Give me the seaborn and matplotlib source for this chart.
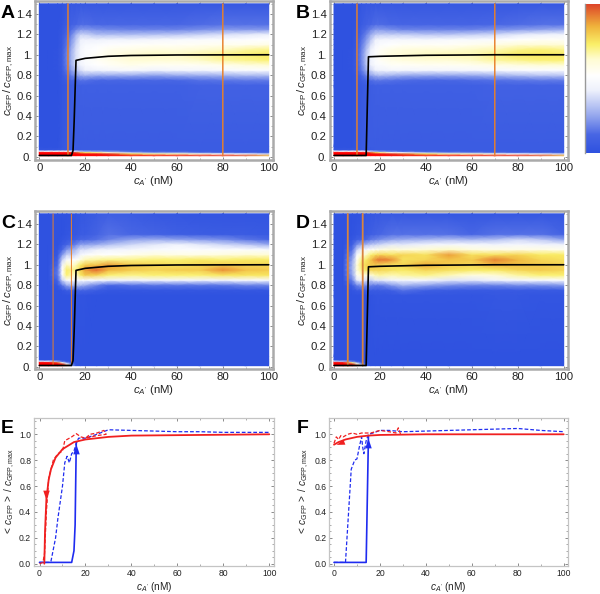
import numpy as np
import pandas as pd
import matplotlib
matplotlib.use("Agg")
import matplotlib.pyplot as plt
from matplotlib.colors import LinearSegmentedColormap
from matplotlib.ticker import MultipleLocator, FixedLocator, FixedFormatter
import seaborn as sns

sns.set_theme(style="white")
plt.rcParams["font.family"] = ["Liberation Sans", "DejaVu Sans"]
plt.rcParams["mathtext.fontset"] = "custom"
plt.rcParams["mathtext.rm"] = "Liberation Sans"
plt.rcParams["mathtext.it"] = "Liberation Sans:italic"
plt.rcParams["mathtext.bf"] = "Liberation Sans:bold"

# ---- data ----
heat_x = [0, 4, 8, 10, 12, 14, 16, 18, 20, 25, 30, 40, 50, 60, 70, 80, 90, 100]
heat_y = [0.01, 0.03, 0.045, 0.055, 0.07, 0.1, 0.7, 0.75, 0.8, 0.85, 0.9, 0.95,
          1.0, 1.05, 1.1, 1.15, 1.2, 1.25, 1.3, 1.5]

heat_a = [
    [125,125,125,125,125,125,125,125,125,125,122,118,115,112,108,105,98,85],
    [130,130,130,130,130,130,130,125,120,115,105,78,68,66,60,52,44,35],
    [130,130,130,130,125,115,100,85,75,70,62,30,20,22,15,12,10,8],
    [45,50,55,55,50,45,38,30,25,22,20,12,9,9,7,6,5,5],
    [3,3,3,4,5,5,5,6,6,6,6,6,6,6,6,6,6,6],
    [0,0,0,3,5,6,6,6,6,6,6,6,6,6,6,6,6,6],
    [0,0,0,2,4,6,7,8,8,8,8,8,8,8,9,9,9,9],
    [0,0,0,3,7,10,12,14,14,12,12,12,12,12,14,15,16,16],
    [0,0,0,4,11,17,22,26,28,26,26,26,24,26,27,28,30,30],
    [0,0,1,5,15,23,32,38,42,44,46,48,44,46,46,48,50,50],
    [0,0,1,6,17,27,37,44,48,52,54,57,55,55,55,57,60,62],
    [0,0,1,6,18,28,39,46,50,54,57,62,62,62,64,68,70,72],
    [0,0,1,6,18,28,38,46,50,54,57,62,64,64,67,70,72,74],
    [0,0,1,6,17,27,38,46,50,52,56,58,60,60,62,64,68,70],
    [0,0,0,5,15,24,36,44,48,50,51,53,54,54,55,56,56,58],
    [0,0,0,5,14,22,32,42,43,42,44,44,46,48,49,50,51,52],
    [0,0,0,4,12,18,28,35,35,30,30,30,31,32,35,38,40,42],
    [0,0,0,3,9,13,18,22,22,20,19,18,18,18,20,22,22,22],
    [0,0,0,2,6,9,11,13,13,12,12,12,12,12,13,14,14,14],
    [0,0,0,1,3,4,4,4,4,4,4,4,4,4,4,4,4,4],
]
heat_b = [
    [125,125,125,125,125,125,125,125,122,120,118,116,114,110,108,105,98,85],
    [130,130,130,130,130,130,128,122,118,105,95,75,66,64,58,50,42,35],
    [130,130,130,130,125,112,95,80,70,55,42,26,20,18,14,12,10,8],
    [45,50,55,55,50,42,32,25,20,16,12,9,8,8,7,6,5,5],
    [3,3,3,4,5,5,5,6,6,6,6,6,6,6,6,6,6,6],
    [0,0,0,3,5,6,6,6,6,6,6,6,6,6,6,6,6,6],
    [0,0,0,2,4,6,7,8,8,8,8,8,8,8,9,9,9,9],
    [0,0,0,3,7,10,13,15,15,14,13,12,12,13,14,15,16,16],
    [0,0,0,4,11,18,24,28,30,28,26,25,25,26,28,30,32,32],
    [0,0,1,6,16,26,36,42,44,46,46,46,46,47,48,50,50,50],
    [0,0,1,7,18,30,42,48,50,54,54,55,55,56,58,60,62,62],
    [0,0,1,7,19,32,44,50,54,58,60,62,62,64,68,70,72,72],
    [0,0,1,7,19,32,44,50,55,60,62,64,66,66,70,74,74,74],
    [0,0,1,6,18,30,42,50,54,58,60,62,62,64,66,70,72,70],
    [0,0,0,5,16,26,38,46,50,52,54,54,54,56,58,62,62,62],
    [0,0,0,5,14,22,32,42,45,46,46,46,48,48,50,52,54,54],
    [0,0,0,4,12,18,26,32,34,34,34,32,32,34,36,40,42,44],
    [0,0,0,3,9,13,18,22,22,20,18,18,18,18,20,22,24,26],
    [0,0,0,2,6,9,11,13,13,12,11,11,11,11,12,13,14,14],
    [0,0,0,1,3,4,4,4,4,4,4,4,4,4,4,4,4,4],
]
heat_c = [
    [130,130,130,125,90,25,3,0,0,0,0,0,0,0,0,0,0,0],
    [130,130,125,100,50,15,0,0,0,0,0,0,0,0,0,0,0,0],
    [125,125,95,55,20,5,0,0,0,0,0,0,0,0,0,0,0,0],
    [40,40,25,12,4,0,0,0,0,0,0,0,0,0,0,0,0,0],
    [0,0,0,0,0,0,0,0,0,0,0,0,0,0,0,0,0,0],
    [0,0,0,0,0,0,0,0,0,0,0,0,0,0,0,0,0,0],
    [0,0,0,0,0,0,1,1,1,0,0,0,0,0,0,0,0,0],
    [0,0,0,2,6,8,10,10,10,6,3,3,3,3,3,3,3,3],
    [0,0,3,15,25,28,30,28,25,18,12,14,15,15,15,15,18,18],
    [0,0,10,35,50,48,45,50,50,48,44,45,45,46,45,45,48,48],
    [0,0,15,50,72,66,62,74,80,78,72,70,72,72,72,75,75,75],
    [0,0,15,52,74,70,70,80,88,95,85,80,78,80,80,90,82,80],
    [0,0,12,45,65,60,66,74,80,82,88,80,78,76,78,80,78,78],
    [0,0,8,35,50,48,52,60,66,68,70,70,72,72,74,72,74,74],
    [0,0,4,22,35,34,38,46,50,54,52,56,60,58,58,60,62,62],
    [0,0,2,12,22,25,30,38,38,42,44,46,48,50,50,50,50,48],
    [0,0,0,5,10,14,18,24,24,26,30,36,40,44,40,36,32,26],
    [0,0,0,2,4,6,8,12,12,14,18,24,26,24,22,20,15,12],
    [0,0,0,0,2,3,4,6,6,10,14,12,10,8,7,6,6,5],
    [0,0,0,0,0,1,2,3,4,6,8,6,4,3,2,2,2,2],
]
heat_d = [
    [130,130,120,95,50,8,0,0,0,0,0,0,0,0,0,0,0,0],
    [130,128,100,60,20,2,0,0,0,0,0,0,0,0,0,0,0,0],
    [120,115,70,25,5,0,0,0,0,0,0,0,0,0,0,0,0,0],
    [35,30,15,5,0,0,0,0,0,0,0,0,0,0,0,0,0,0],
    [0,0,0,0,0,0,0,0,0,0,0,0,0,0,0,0,0,0],
    [0,0,0,0,0,0,0,0,0,0,0,0,0,0,0,0,0,0],
    [0,0,0,0,0,0,1,2,2,2,2,2,2,2,3,3,2,2],
    [0,0,2,5,6,6,6,6,6,8,14,8,6,5,5,5,5,5],
    [0,0,8,18,22,20,18,16,16,22,28,24,20,18,18,20,20,22],
    [0,0,18,40,44,38,34,40,40,44,46,46,40,40,44,46,48,50],
    [0,0,25,55,62,60,60,66,68,66,68,70,66,60,62,68,72,72],
    [0,0,28,60,70,75,78,78,78,76,74,78,76,74,74,78,80,78],
    [0,0,28,60,74,78,80,80,78,76,78,86,80,78,84,82,80,78],
    [0,0,25,55,70,74,82,90,94,90,76,78,82,80,92,84,78,76],
    [0,0,20,48,60,64,72,76,78,76,78,76,88,76,76,78,74,74],
    [0,0,14,35,44,48,54,56,58,62,60,62,64,60,58,58,58,56],
    [0,0,8,20,26,28,32,34,36,40,40,44,46,46,44,46,44,42],
    [0,0,3,8,10,12,16,18,20,24,26,28,30,28,30,36,32,24],
    [0,0,1,3,4,6,8,10,12,14,14,14,14,12,14,14,14,10],
    [0,0,0,0,1,2,3,4,4,4,4,4,3,3,3,3,3,3],
]

curve_ac_x = [0, 14, 14.7, 15.2, 16, 18, 20, 25, 30, 40, 60, 100]
curve_ac_y = [0.012, 0.012, 0.06, 0.35, 0.945, 0.955, 0.965, 0.975, 0.985, 0.993, 0.998, 1.0]
curve_bd_x = [0, 14, 15, 20, 40, 70, 100]
curve_bd_y = [0.012, 0.012, 0.98, 0.985, 0.995, 1.0, 1.0]

orange_a = [12.5, 80]
orange_b = [10, 70]
orange_c = [6, 14]
orange_d = [6, 12.5]

e_red_x = [2.1, 2.4, 3, 4, 5, 7, 10, 15, 20, 30, 40, 100]
e_red_y = [0.0, 0.25, 0.5, 0.65, 0.73, 0.82, 0.885, 0.94, 0.96, 0.98, 0.99, 1.0]
e_red_dash_x = [0, 1.5, 2.2, 3, 4, 6, 8, 10, 11, 14, 16, 18, 20, 22, 25, 28, 29, 25, 20]
e_red_dash_y = [0.0, 0.01, 0.08, 0.4, 0.66, 0.8, 0.85, 0.87, 0.95, 0.98, 1.005, 0.98, 0.97, 1.0, 1.01, 1.03, 1.0, 0.99, 0.97]
e_blue_x = [0, 14, 15, 15.5, 16]
e_blue_y = [0.01, 0.01, 0.1, 0.3, 0.94]
e_blue_dash_x = [0, 4, 5, 7, 8, 10, 11, 12, 13, 14, 15, 16, 17, 20, 25, 30, 40, 50, 60, 70, 80, 90, 100]
e_blue_dash_y = [0.01, 0.01, 0.02, 0.2, 0.35, 0.6, 0.78, 0.83, 0.78, 0.85, 0.87, 0.93, 0.97, 0.97, 1.0, 1.035, 1.03, 1.025, 1.02, 1.02, 1.015, 1.015, 1.015]

f_red_x = [0, 2, 5, 10, 15, 20, 40, 100]
f_red_y = [0.92, 0.94, 0.96, 0.98, 0.99, 0.995, 1.0, 1.0]
f_red_dash_x = [0, 1, 2, 3, 4, 6, 8, 10, 12, 14, 16, 20, 24, 27, 28, 29]
f_red_dash_y = [0.93, 0.98, 0.96, 0.99, 0.98, 1.0, 1.01, 1.0, 1.01, 1.01, 1.01, 1.03, 1.02, 1.01, 1.05, 1.0]
f_blue_x = [0, 14, 15]
f_blue_y = [0.01, 0.01, 0.99]
f_blue_dash_x = [0, 5, 7.5, 9, 10, 11, 12, 12.5, 13, 14, 15, 17, 20, 24, 30, 40, 50, 60, 70, 80, 90, 100]
f_blue_dash_y = [0.01, 0.01, 0.73, 0.8, 0.81, 0.9, 0.98, 0.9, 0.85, 0.95, 1.0, 1.01, 1.03, 1.03, 1.02, 1.025, 1.03, 1.035, 1.04, 1.045, 1.03, 1.02]

heat_labels_y = ["0.", "0.2", "0.4", "0.6", "0.8", "1.", "1.2", "1.4"]
heat_ticks_y = [0, 0.2, 0.4, 0.6, 0.8, 1.0, 1.2, 1.4]
line_labels_y = ["0.0", "0.2", "0.4", "0.6", "0.8", "1.0"]
line_ticks_y = [0, 0.2, 0.4, 0.6, 0.8, 1.0]

XLAB = r"$c_{A^{\prime}}$ (nM)"
YLAB = r"$c_{\mathrm{GFP}}\,/\,c_{\mathrm{GFP,max}}$"
YLAB2 = r"$<\,c_{\mathrm{GFP}}\,>\ /\ c_{\mathrm{GFP,max}}$"

# ---- colours ----
FS = 130.0
stops = [(0, (47, 82, 224)), (12, (72, 102, 228)), (25, (150, 168, 238)),
         (42, (238, 241, 252)), (52, (255, 255, 255)), (63, (255, 252, 210)),
         (73, (250, 240, 105)), (85, (240, 180, 60)), (100, (222, 70, 42)),
         (115, (245, 20, 15)), (130, (255, 0, 0))]
cmap = LinearSegmentedColormap.from_list(
    "temp", [(p / FS, tuple(c / 255 for c in rgb)) for p, rgb in stops], N=512)

W, H = 600, 594
fig = plt.figure(figsize=(W / 100, H / 100), dpi=100)


def axes_px(left, top, right, bottom):
    return fig.add_axes([left / W, 1 - bottom / H, (right - left) / W, (bottom - top) / H])


def style(ax, edge, lw, size, ticklen):
    for s in ax.spines.values():
        s.set_visible(True)
        s.set_color(edge)
        s.set_linewidth(lw)
    ax.xaxis.set_major_locator(MultipleLocator(20))
    ax.xaxis.set_minor_locator(MultipleLocator(10))
    ax.yaxis.set_minor_locator(MultipleLocator(0.1))
    ax.tick_params(which="major", direction="in", length=ticklen, width=0.6, color="#777777",
                   labelsize=size, labelcolor="#222222", pad=2,
                   top=True, right=True, bottom=True, left=True)
    ax.tick_params(which="minor", direction="in", length=ticklen * 0.6, width=0.5, color="#888888",
                   top=True, right=True, bottom=True, left=True)
    ax.grid(False)


def labels(ax, xlab_px, ylab_px, ylabel, size):
    ax.set_xlabel(XLAB, fontsize=size, color="#222222")
    ax.set_ylabel(ylabel, fontsize=size, color="#222222")
    ax.xaxis.set_label_coords(xlab_px[0] / W, 1 - xlab_px[1] / H, transform=fig.transFigure)
    ax.yaxis.set_label_coords(ylab_px[0] / W, 1 - ylab_px[1] / H, transform=fig.transFigure)


def heat_panel(box, x0, x100, y0px, matrix, orange, o_lw, o_col, cx, cy, letter, letter_px, xlab_px, ylab_px):
    left, top, right, bottom = box
    ax = axes_px(left, top, right, bottom)
    pxx = (x100 - x0) / 100
    pxy = (156.7 - 14) / 1.4
    ax.set_facecolor("white")
    ax.pcolormesh(heat_x, heat_y, np.array(matrix, float), shading="gouraud",
                  cmap=cmap, vmin=0, vmax=FS, rasterized=True, zorder=1)
    for xv in orange:
        ln = ax.axvline(xv, ymin=(0.01 + (bottom - y0px) / pxy) / ((bottom - top) / pxy),
                        ymax=(1.5 + (bottom - y0px) / pxy) / ((bottom - top) / pxy),
                        color=o_col, lw=o_lw, zorder=3)
        ln.set_snap(False)
    df = pd.DataFrame({"x": cx, "y": cy})
    sns.lineplot(data=df, x="x", y="y", ax=ax, color="black", lw=1.2, sort=False,
                 estimator=None, zorder=4)
    ax.set_xlim((left - x0) / pxx, (right - x0) / pxx)
    ax.set_ylim((y0px - bottom) / pxy, (y0px - top) / pxy)
    style(ax, "#aaaaaa", 1.8, 8.2, 2.5)
    ax.yaxis.set_major_locator(FixedLocator(heat_ticks_y))
    ax.yaxis.set_major_formatter(FixedFormatter(heat_labels_y))
    labels(ax, xlab_px, ylab_px, YLAB, 8.2)
    fig.text(letter_px[0] / W, 1 - letter_px[1] / H, letter, fontsize=14, fontweight="bold", color="black")
    return ax


def arrow_marker(deg):
    t = np.deg2rad(deg)
    pts = np.array([[-1.0, -1.5], [1.0, -1.5], [0.0, 1.5], [-1.0, -1.5]])
    rot = np.array([[np.cos(t), -np.sin(t)], [np.sin(t), np.cos(t)]])
    return pts @ rot.T


def line_panel(box, x0, x100, rx, ry, rdx, rdy, bx, by, bdx, bdy, arrows, letter, letter_px, xlab_px, ylab_px):
    left, top, right, bottom = box
    ax = axes_px(left, top, right, bottom)
    pxx = (x100 - x0) / 100
    y0px, pxy = 563.7, 129.4
    kw = dict(ax=ax, sort=False, estimator=None)
    sns.lineplot(x=bx, y=by, color="#1f2cf0", lw=1.2, **kw)
    sns.lineplot(x=bdx, y=bdy, color="#1f2cf0", lw=0.9, linestyle=(0, (3, 1.6)), **kw)
    sns.lineplot(x=rx, y=ry, color="#f02020", lw=1.3, **kw)
    sns.lineplot(x=rdx, y=rdy, color="#f02020", lw=0.9, linestyle=(0, (3, 1.6)), **kw)
    for (ax_x, ax_y, col, ang) in arrows:
        ax.plot([ax_x], [ax_y], marker=arrow_marker(ang), ms=7, color=col, mec=col, mew=0,
                ls="none", zorder=6)
    ax.set_xlim((left - x0) / pxx, (right - x0) / pxx)
    ax.set_ylim((y0px - bottom) / pxy, (y0px - top) / pxy)
    style(ax, "#c4c4c4", 0.9, 6.2, 2)
    ax.yaxis.set_major_locator(FixedLocator(line_ticks_y))
    ax.yaxis.set_major_formatter(FixedFormatter(line_labels_y))
    ax.yaxis.set_minor_locator(MultipleLocator(0.05))
    labels(ax, xlab_px, ylab_px, YLAB2, 7.2)
    fig.text(letter_px[0] / W, 1 - letter_px[1] / H, letter, fontsize=14, fontweight="bold", color="black")
    return ax


ORANGE = "#e8802a"
heat_panel((35, 1, 273, 160), 39.3, 268.7, 156.7, heat_a, orange_a, 1.05, ORANGE, curve_ac_x, curve_ac_y,
           "A", (1, 18), (154, 174), (16, 80))
heat_panel((329.5, 1, 568, 160), 334, 563.7, 156.7, heat_b, orange_b, 1.05, ORANGE, curve_bd_x, curve_bd_y,
           "B", (296, 18), (449, 174), (310, 80))
heat_panel((35, 210.7, 273, 369), 39.3, 268.7, 366.7, heat_c, orange_c, 0.7, ORANGE, curve_ac_x, curve_ac_y,
           "C", (1, 228), (154, 383), (16, 290))
heat_panel((329.5, 210.7, 568, 369), 334, 563.7, 366.7, heat_d, orange_d, 1.3, "#d9843f", curve_bd_x, curve_bd_y,
           "D", (296, 228), (449, 383), (310, 290))

line_panel((34, 418, 273.7, 566), 39.5, 269.3, e_red_x, e_red_y, e_red_dash_x, e_red_dash_y,
           e_blue_x, e_blue_y, e_blue_dash_x, e_blue_dash_y,
           [(16, 0.89, "#1f2cf0", 0), (3, 0.53, "#f02020", 180)],
           "E", (1, 433), (154, 580), (17, 492))
line_panel((329.3, 418, 568.3, 566), 334, 563.7, f_red_x, f_red_y, f_red_dash_x, f_red_dash_y,
           f_blue_x, f_blue_y, f_blue_dash_x, f_blue_dash_y,
           [(15, 0.93, "#1f2cf0", 0), (2.5, 0.935, "#f02020", 110)],
           "F", (297, 433), (448, 580), (311, 492))

# colour key
cax = axes_px(585, 4, 600, 152.7)
cax.imshow(np.linspace(100, 0, 256).reshape(-1, 1), aspect="auto", cmap=cmap, vmin=0, vmax=FS)
cax.set_xticks([])
cax.set_yticks([])
for k, s in cax.spines.items():
    s.set_visible(k == "left")
    s.set_color("#999999")
    s.set_linewidth(1)

fig.savefig("out.png", dpi=100, facecolor="white")
